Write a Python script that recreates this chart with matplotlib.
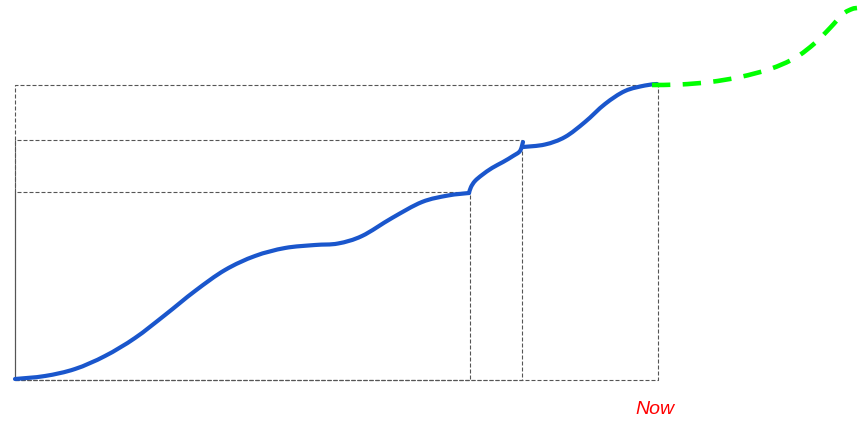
import matplotlib
matplotlib.use("Agg")
import matplotlib.pyplot as plt
from matplotlib.path import Path
from matplotlib.patches import PathPatch

# ---- data (x = time, y = level, screen-like units, y grows downward) ----
phase1_x = [15, 45, 75, 105, 135, 165, 195, 225, 255, 285, 315, 338, 362, 392, 422, 448, 469]
phase1_y = [379, 376, 369, 356, 338, 315, 291, 270, 256, 248, 245, 243.5, 236, 218, 202, 195.5, 193]

phase2_x = [469, 471, 475, 482, 492, 503, 513, 520, 523]
phase2_y = [193, 187, 181, 175, 168, 162, 156, 151, 142]

phase3_x = [523, 545, 565, 585, 605, 625, 645, 657]
phase3_y = [147, 144.5, 137, 122, 104, 91, 85.5, 84]

forecast_x = [652, 680, 710, 740, 770, 795, 815, 830, 843, 852, 857]
forecast_y = [85, 84.5, 82, 77, 69, 58, 43, 28, 14, 9, 8]

base_x = 15
base_y = 380
milestone_x = [470, 522, 658]
milestone_y = [192, 140, 85]

now_label = "Now"
now_x = 655
now_y = 410


def smooth_path(xs, ys):
    """Catmull-Rom style smooth curve through the points, drawn as cubic Bezier path."""
    pts = list(zip(xs, ys))
    n = len(pts)
    verts = [pts[0]]
    codes = [Path.MOVETO]
    for i in range(n - 1):
        p0 = pts[i - 1] if i > 0 else pts[i]
        p1 = pts[i]
        p2 = pts[i + 1]
        p3 = pts[i + 2] if i + 2 < n else pts[i + 1]
        c1 = (p1[0] + (p2[0] - p0[0]) / 6.0, p1[1] + (p2[1] - p0[1]) / 6.0)
        c2 = (p2[0] - (p3[0] - p1[0]) / 6.0, p2[1] - (p3[1] - p1[1]) / 6.0)
        verts += [c1, c2, p2]
        codes += [Path.CURVE4, Path.CURVE4, Path.CURVE4]
    return Path(verts, codes)


# ---- figure ----
fig = plt.figure(figsize=(8.63, 4.22), dpi=100)
ax = fig.add_axes([0, 0, 1, 1])
ax.set_xlim(0, 863)
ax.set_ylim(422, 0)
ax.axis("off")

for mx, my in zip(milestone_x, milestone_y):
    ax.plot([base_x, mx, mx, base_x, base_x], [base_y, base_y, my, my, base_y],
            color="#555555", lw=0.8, dashes=(3.6, 1.8), zorder=1)

blue = "#1a56cc"
for xs, ys in [(phase1_x, phase1_y), (phase2_x, phase2_y), (phase3_x, phase3_y)]:
    ax.add_patch(PathPatch(smooth_path(xs, ys), facecolor="none", edgecolor=blue,
                           lw=3.0, capstyle="round", joinstyle="round", zorder=3))

ax.add_patch(PathPatch(smooth_path(forecast_x, forecast_y), facecolor="none",
                       edgecolor="#00ff00", lw=3.3, linestyle=(0, (4.0, 2.7)),
                       capstyle="butt", zorder=4))

ax.text(now_x, now_y, now_label, color="red", fontsize=14, fontstyle="italic",
        family="Liberation Sans", ha="center", va="center")

fig.savefig("out.png", dpi=100)
